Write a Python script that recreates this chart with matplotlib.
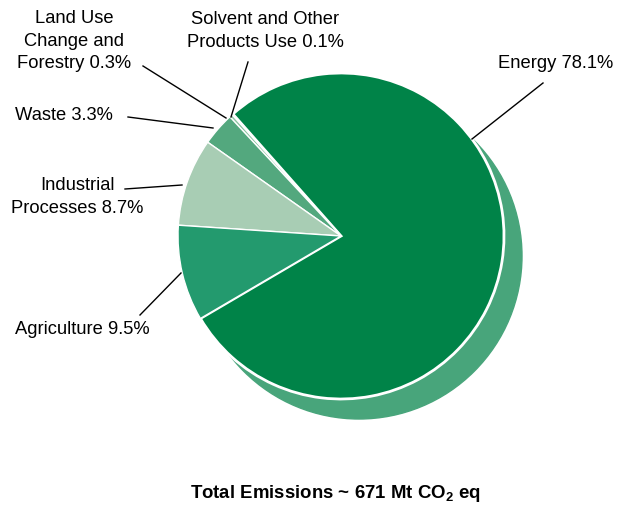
import matplotlib.pyplot as plt
from matplotlib.patches import Circle

plt.rcParams["font.family"] = ["Liberation Sans", "DejaVu Sans"]
plt.rcParams["mathtext.fontset"] = "custom"
plt.rcParams["mathtext.rm"] = "Liberation Sans"
plt.rcParams["mathtext.bf"] = "Liberation Sans:bold"

# emission shares by sector, percent
sectors = ["Energy", "Solvent and Other\nProducts Use", "Land Use\nChange and\nForestry",
           "Waste", "Industrial\nProcesses", "Agriculture"]
shares = [78.1, 0.1, 0.3, 3.3, 8.7, 9.5]
colors = ["#008348", "#cfe5d6", "#8cc4a2", "#53a87e", "#a8cdb4", "#239a6e"]
total_mt = 671

W, H = 618, 508
fig = plt.figure(figsize=(W / 100, H / 100), dpi=100)
ax = fig.add_axes([0, 0, 1, 1])

cx, cy, r = 341, H - 236, 163

# flat drop shadow behind the pie
ax.add_patch(Circle((cx + 18, cy - 20), r, color="#48a57b", zorder=0))

wedges, _ = ax.pie(shares, colors=colors, startangle=210.4, counterclock=True,
                   center=(cx, cy), radius=r, frame=True,
                   wedgeprops=dict(edgecolor="white", linewidth=1.0))
wedges[0].set_linewidth(2.0)
for w in wedges:
    w.set_zorder(2)
ax.set_xlim(0, W)
ax.set_ylim(0, H)
ax.set_aspect("equal")
ax.axis("off")

# label text position (center) and leader line endpoints, in pixels from top
labels = [f"{s} {v}%" for s, v in zip(sectors, shares)]
text_pos = [(556, 64), (265, 31), (74, 41), (64, 115), (77, 197), (82, 329)]
leaders = [((543, 83), (472, 139)),
           ((248, 62), (231, 117)),
           ((143, 66), (226, 118)),
           ((128, 117), (213, 128)),
           ((125, 189), (182, 185)),
           ((140, 315), (181, 273))]

for lab, (tx, ty), ((x0, y0), (x1, y1)) in zip(labels, text_pos, leaders):
    ax.text(tx, H - ty, lab, ha="center", va="center", fontsize=13.2,
            linespacing=1.45, color="black", zorder=3)
    ax.plot([x0, x1], [H - y0, H - y1], color="black", lw=1.0, zorder=3)

ax.text(335, H - 494, f"Total Emissions ~ {total_mt} Mt CO$_\\mathbf{{2}}$ eq",
        ha="center", va="center", fontsize=13.4, fontweight="bold")

fig.savefig("out.png", dpi=100)
